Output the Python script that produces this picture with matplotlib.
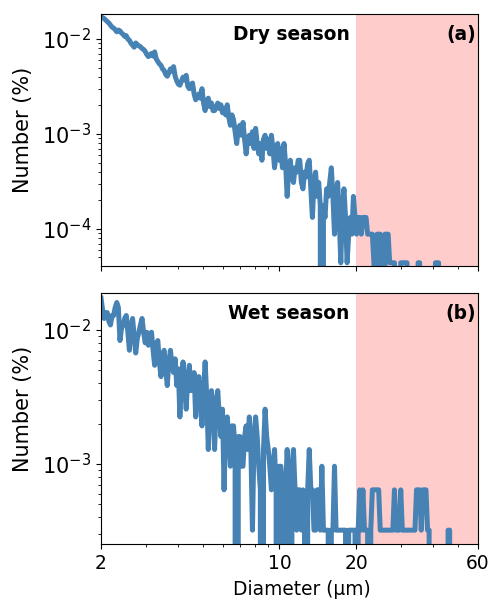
import numpy as np
import matplotlib
matplotlib.use('agg')
import matplotlib.pyplot as plt
from matplotlib.ticker import FixedLocator, FixedFormatter

# size bins (log spaced, 2-60 um)
n_bins = 240
diameter = np.geomspace(2, 60, n_bins)

# particle counts per bin
dry_counts = [392, 380, 372, 358, 346, 334, 318, 302, 296, 284,
              270, 282, 276, 262, 254, 242, 246, 226, 220, 204,
              196, 186, 206, 198, 192, 188, 180, 176, 168, 156,
              148, 154, 160, 150, 166, 140, 132, 124, 120, 110,
              106, 96, 92, 100, 110, 104, 116, 92, 82, 76,
              74, 82, 90, 84, 94, 72, 68, 74, 78, 60,
              52, 56, 60, 54, 68, 48, 40, 50, 54, 44,
              48, 40, 40, 44, 48, 42, 46, 38, 42, 36,
              46, 34, 28, 36, 32, 24, 18, 26, 28, 22,
              30, 20, 14, 20, 22, 18, 24, 16, 26, 18,
              14, 18, 12, 20, 22, 16, 20, 14, 22, 16,
              10, 14, 18, 12, 16, 10, 18, 11, 5, 10,
              12, 8, 7, 10, 9, 12, 12, 7, 6, 9,
              8, 11, 12, 6, 3, 7, 9, 5, 7, 4,
              0, 4, 3, 6, 5, 7, 10, 5, 2, 5,
              7, 3, 1, 4, 6, 3, 1, 2, 3, 2,
              5, 3, 2, 3, 3, 2, 3, 3, 3, 2,
              2, 2, 2, 1, 0, 2, 2, 2, 1, 0,
              2, 2, 2, 1, 1, 1, 1, 0, 0, 0,
              1, 1, 1, 1, 1, 0, 0, 0, 0, 0,
              0, 1, 1, 0, 0, 0, 0, 0, 0, 0,
              0, 0, 1, 1, 1, 0, 0, 0, 0, 0,
              0, 0, 0, 0, 0, 0, 0, 0, 0, 0,
              0, 0, 0, 0, 0, 0, 0, 0, 0, 0]
wet_counts = [54, 44, 38, 42, 42, 36, 34, 40, 40, 46,
              50, 46, 26, 32, 34, 38, 40, 30, 22, 34,
              38, 28, 21, 27, 30, 34, 38, 30, 25, 30,
              24, 28, 30, 22, 17, 24, 26, 18, 14, 20,
              22, 16, 12, 18, 22, 17, 15, 19, 12, 16,
              7, 13, 18, 12, 8, 14, 17, 11, 12, 15,
              7, 12, 14, 9, 6, 11, 18, 10, 4, 9,
              11, 8, 4, 9, 11, 7, 5, 8, 2, 6,
              7, 5, 3, 6, 6, 4, 0, 5, 5, 3,
              3, 5, 6, 4, 7, 4, 1, 5, 7, 5,
              3, 2, 0, 4, 8, 5, 4, 3, 2, 3,
              4, 2, 0, 3, 3, 2, 0, 2, 4, 2,
              0, 3, 4, 2, 1, 2, 2, 1, 2, 1,
              0, 2, 4, 2, 2, 1, 1, 2, 2, 1,
              3, 1, 1, 1, 1, 0, 1, 1, 3, 1,
              1, 1, 1, 1, 1, 1, 0, 1, 1, 1,
              1, 1, 0, 1, 2, 1, 2, 1, 1, 1,
              0, 1, 2, 2, 2, 2, 2, 1, 1, 1,
              1, 1, 1, 1, 1, 1, 2, 1, 1, 1,
              2, 1, 1, 1, 1, 1, 1, 1, 1, 1,
              2, 2, 2, 1, 2, 2, 2, 1, 1, 0,
              0, 0, 0, 0, 0, 0, 0, 0, 0, 0,
              1, 1, 0, 0, 0, 0, 0, 0, 0, 0,
              0, 0, 0, 0, 0, 0, 0, 0, 0, 0]
dry_unit = 4.4e-5   # value of one particle
wet_unit = 3.21e-4

panels = [('Dry season', '(a)', dry_counts, dry_unit, (4.07e-5, 1.83e-2)),
          ('Wet season', '(b)', wet_counts, wet_unit, (2.53e-4, 1.89e-2))]

x_ticks = [2, 10, 20, 60]
x_labels = ['2', '10', '20', '60']

plt.rcParams['font.size'] = 13.4

fig = plt.figure(figsize=(4.94, 6.03), dpi=100)
ax1 = fig.add_axes([0.2045, 0.5589, 0.7632, 0.4179])
ax2 = fig.add_axes([0.2045, 0.0978, 0.7632, 0.4163], sharex=ax1)

for ax, (name, tag, counts, unit, ylim) in zip([ax1, ax2], panels):
    values = np.array(counts, dtype=float) * unit
    ax.axvspan(20, 60, color='red', alpha=0.2, lw=0)
    ax.plot(diameter, values, color='steelblue', lw=3.6)
    ax.set_xscale('log')
    ax.set_yscale('log')
    ax.set_xlim(2, 60)
    ax.set_ylim(*ylim)
    ax.tick_params(axis='y', labelsize=15)
    ax.set_ylabel('Number (%)', fontsize=15)
    ax.yaxis.set_label_coords(-0.18, 0.54)
    ax.text(0.66, 0.917, name, transform=ax.transAxes, ha='right', va='center',
            fontweight='bold')
    ax.text(0.995, 0.917, tag, transform=ax.transAxes, ha='right', va='center',
            fontweight='bold')

ax2.xaxis.set_major_locator(FixedLocator(x_ticks))
ax2.xaxis.set_major_formatter(FixedFormatter(x_labels))
ax2.xaxis.set_minor_formatter(FixedFormatter([]))
ax2.set_xlabel('Diameter (µm)')
ax2.xaxis.set_label_coords(0.532, -0.145)
ax1.tick_params(labelbottom=False)

fig.savefig('out.png', dpi=100)
